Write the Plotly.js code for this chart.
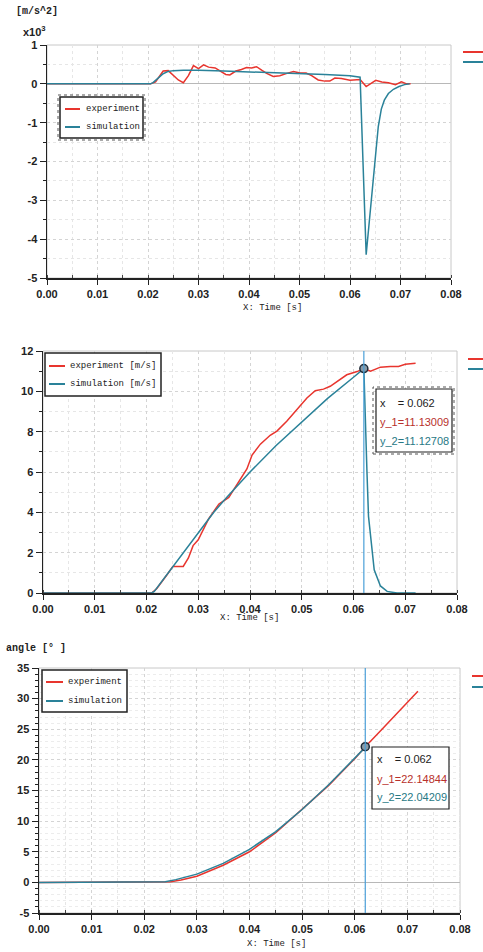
<!DOCTYPE html>
<html>
<head>
<meta charset="utf-8">
<script src="https://cdn.plot.ly/plotly-3.0.1.min.js"></script>
<style>
html,body{margin:0;padding:0;background:#fff;}
#chart{width:483px;height:952px;}
</style>
</head>
<body>
<div id="chart"></div>
<script>
// ---------- DATA ----------
// Chart 1: acceleration [x10^3 m/s^2]
const accTimeExp = [0, 0.0205, 0.0215, 0.023, 0.024, 0.025, 0.026, 0.027, 0.028, 0.029, 0.030, 0.031, 0.032, 0.0333, 0.0343, 0.0354, 0.0362, 0.0374, 0.0385, 0.0395, 0.0405, 0.0415, 0.0425, 0.0435, 0.0448, 0.0461, 0.0475, 0.0488, 0.0501, 0.0513, 0.0524, 0.0537, 0.055, 0.056, 0.057, 0.0583, 0.060, 0.061, 0.062, 0.0632, 0.064, 0.0651, 0.0663, 0.0676, 0.069, 0.0702, 0.0712, 0.072];
const accExp = [0, 0, 0.05, 0.33, 0.34, 0.21, 0.10, 0.03, 0.21, 0.47, 0.39, 0.49, 0.43, 0.41, 0.33, 0.24, 0.23, 0.33, 0.37, 0.42, 0.41, 0.44, 0.35, 0.27, 0.19, 0.21, 0.27, 0.32, 0.28, 0.28, 0.21, 0.10, 0.07, 0.07, 0.15, 0.14, 0.09, 0.10, 0.11, -0.07, 0.00, 0.09, 0.05, 0.03, -0.02, 0.05, 0.00, 0.00];
const accTimeSim = [0, 0.0205, 0.021, 0.022, 0.023, 0.024, 0.025, 0.027, 0.030, 0.035, 0.040, 0.045, 0.050, 0.055, 0.060, 0.0612, 0.0620, 0.0632, 0.0645, 0.0651, 0.0656, 0.0662, 0.0668, 0.0676, 0.0686, 0.0697, 0.0708, 0.0718];
const accSim = [0, 0, 0.03, 0.15, 0.26, 0.32, 0.34, 0.35, 0.35, 0.33, 0.31, 0.28, 0.26, 0.24, 0.21, 0.19, 0.17, -4.40, -2.60, -1.90, -1.10, -0.65, -0.42, -0.25, -0.14, -0.07, -0.02, 0];
const accTickVals = [1, 0, -1, -2, -3, -4, -5];
const accTickText = ["1", "0", "-1", "-2", "-3", "-4", "-5"];

// Chart 2: velocity [m/s]
const velTimeExp = [0, 0.021, 0.022, 0.023, 0.024, 0.0251, 0.0271, 0.0281, 0.029, 0.030, 0.031, 0.032, 0.033, 0.034, 0.0359, 0.0368, 0.0381, 0.0394, 0.0404, 0.042, 0.0439, 0.0452, 0.0471, 0.0491, 0.051, 0.0526, 0.0542, 0.0555, 0.0568, 0.0587, 0.0607, 0.062, 0.0633, 0.0652, 0.0671, 0.0687, 0.070, 0.072];
const velExp = [0, 0, 0.22, 0.55, 0.92, 1.32, 1.32, 1.74, 2.35, 2.64, 3.2, 3.67, 4.05, 4.41, 4.74, 5.12, 5.62, 6.15, 6.84, 7.38, 7.82, 8.03, 8.52, 9.1, 9.67, 10.03, 10.11, 10.25, 10.5, 10.82, 10.98, 11.13009, 11.0, 11.2, 11.23, 11.23, 11.34, 11.39];
const velTimeSim = [0, 0.021, 0.0215, 0.022, 0.023, 0.025, 0.030, 0.033, 0.035, 0.040, 0.045, 0.050, 0.055, 0.060, 0.062, 0.0626, 0.0629, 0.0640, 0.0652, 0.0665, 0.0684, 0.072];
const velSim = [0, 0, 0.08, 0.25, 0.6, 1.3, 3.0, 4.0, 4.6, 6.0, 7.3, 8.5, 9.65, 10.7, 11.12708, 6.0, 3.8, 1.15, 0.35, 0.08, 0, 0];
const velTickVals = [0, 2, 4, 6, 8, 10, 12];

// Chart 3: angle [deg]
const angTimeExp = [0, 0.023, 0.025, 0.027, 0.030, 0.035, 0.040, 0.045, 0.050, 0.055, 0.060, 0.062, 0.065, 0.068, 0.072];
const angExp = [0, 0, 0.1, 0.4, 1.0, 2.8, 5.0, 8.1, 11.9, 15.8, 20.2, 22.14844, 24.85, 27.6, 31.2];
const angTimeSim = [0, 0.022, 0.024, 0.026, 0.028, 0.030, 0.035, 0.040, 0.045, 0.050, 0.055, 0.060, 0.062];
const angSim = [0, 0, 0.1, 0.45, 0.85, 1.35, 3.1, 5.4, 8.3, 11.9, 15.9, 20.2, 22.04209];
const angTickVals = [35, 30, 25, 20, 15, 10, 5, 0, -5];
const angTickText = ["35", "30", "25", "20", "15", "10", "5", "0", "-5"];

// Legend labels
const legendNames1 = ["experiment", "simulation"];
const legendNames2 = ["experiment [m/s]", "simulation [m/s]"];
const legendNames3 = ["experiment", "simulation"];

// Cursor readouts
const cursorX = 0.062;
const velCursor = [11.13009, 11.12708];
const angCursor = [22.14844, 22.04209];

// ---------- STYLE ----------
const RED = '#e8352e';
const TEAL = '#2a8299';
const CURSOR = '#4a9fd8';
const W = 483, H = 952;
const px = v => v / W;
const py = v => 1 - v / H;

const tickFont = {family: 'Liberation Sans, Arial, sans-serif', size: 11, color: '#222', weight: 'bold'};
const monoFont = {family: 'Liberation Mono, DejaVu Sans Mono, monospace', size: 9, color: '#222'};

function xAxis(domain, anchor) {
  return {
    domain: domain, anchor: anchor, range: [0, 0.08], tick0: 0, dtick: 0.01, tickformat: '.2f',
    showline: true, linecolor: '#222', linewidth: 1.5, ticks: 'outside', ticklen: 5, tickcolor: '#222',
    tickfont: tickFont, showgrid: true, gridcolor: '#d4d4d4', griddash: 'dot', gridwidth: 1,
    zeroline: false, fixedrange: true,
    minor: {dtick: 0.005, ticks: 'inside', ticklen: 3, tickcolor: '#444', showgrid: true, gridcolor: '#e6e6e6', griddash: 'dot'}
  };
}
function yAxis(domain, anchor, range, extra) {
  return Object.assign({
    domain: domain, anchor: anchor, range: range,
    showline: true, linecolor: '#222', linewidth: 1.5, ticks: 'outside', ticklen: 6, tickcolor: '#222',
    tickfont: tickFont, showgrid: true, gridcolor: '#d4d4d4', griddash: 'dot', gridwidth: 1,
    zeroline: true, zerolinecolor: '#b8b8b8', zerolinewidth: 1, fixedrange: true
  }, extra);
}

const traces = [
  {x: accTimeExp, y: accExp, xaxis: 'x', yaxis: 'y', type: 'scatter', mode: 'lines', name: legendNames1[0], line: {color: RED, width: 1.5}},
  {x: accTimeSim, y: accSim, xaxis: 'x', yaxis: 'y', type: 'scatter', mode: 'lines', name: legendNames1[1], line: {color: TEAL, width: 1.5}},
  {x: velTimeExp, y: velExp, xaxis: 'x2', yaxis: 'y2', type: 'scatter', mode: 'lines', name: legendNames2[0], line: {color: RED, width: 1.5}},
  {x: velTimeSim, y: velSim, xaxis: 'x2', yaxis: 'y2', type: 'scatter', mode: 'lines', name: legendNames2[1], line: {color: TEAL, width: 1.5}},
  {x: [cursorX], y: [velCursor[0]], xaxis: 'x2', yaxis: 'y2', type: 'scatter', mode: 'markers', name: 'cursor', marker: {size: 8, color: '#8899a6', line: {color: '#1d2b38', width: 1.5}}},
  {x: angTimeExp, y: angExp, xaxis: 'x3', yaxis: 'y3', type: 'scatter', mode: 'lines', name: legendNames3[0], line: {color: RED, width: 1.5}},
  {x: angTimeSim, y: angSim, xaxis: 'x3', yaxis: 'y3', type: 'scatter', mode: 'lines', name: legendNames3[1], line: {color: TEAL, width: 1.5}},
  {x: [cursorX], y: [angCursor[0]], xaxis: 'x3', yaxis: 'y3', type: 'scatter', mode: 'markers', name: 'cursor', marker: {size: 8, color: '#8899a6', line: {color: '#1d2b38', width: 1.5}}}
];

const fmt = v => v.toFixed(5);
const tipFont = {family: 'Liberation Sans, Arial, sans-serif', size: 11};

function txt(text, x, y, font, anchor) {
  return {text: text, x: px(x), y: py(y), xref: 'paper', yref: 'paper', xanchor: anchor || 'left', yanchor: 'middle', showarrow: false, font: font};
}

const annotations = [
  txt('<b>[m/s^2]</b>', 14, 12, {family: monoFont.family, size: 10, color: '#222'}),
  txt('<b>x10<sup>3</sup></b>', 21, 31, {family: 'Liberation Sans, Arial, sans-serif', size: 11, color: '#222'}),
  txt('<b>angle [° ]</b>', 4, 648, {family: monoFont.family, size: 10, color: '#222'}),
  txt('X: Time [s]', 272, 308, monoFont, 'center'),
  txt('X: Time [s]', 249, 618, monoFont, 'center'),
  txt('X: Time [s]', 276, 944, monoFont, 'center'),
  // legends
  txt(legendNames1[0], 84, 109, monoFont), txt(legendNames1[1], 84, 127, monoFont),
  txt(legendNames2[0], 68, 366, monoFont), txt(legendNames2[1], 68, 384, monoFont),
  txt(legendNames3[0], 66, 682, monoFont), txt(legendNames3[1], 66, 701, monoFont),
  // tooltip chart 2
  txt('x    = ' + cursorX.toFixed(3), 378, 403, Object.assign({color: '#222'}, tipFont)),
  txt('y_1=' + fmt(velCursor[0]), 378, 422, Object.assign({color: '#b8312c'}, tipFont)),
  txt('y_2=' + fmt(velCursor[1]), 378, 441, Object.assign({color: '#287985'}, tipFont)),
  // tooltip chart 3
  txt('x    = ' + cursorX.toFixed(3), 375, 759, Object.assign({color: '#222'}, tipFont)),
  txt('y_1=' + fmt(angCursor[0]), 375, 779, Object.assign({color: '#b8312c'}, tipFont)),
  txt('y_2=' + fmt(angCursor[1]), 375, 797, Object.assign({color: '#287985'}, tipFont))
];

function paperRect(x0, y0, x1, y1, color, width, dash, fill) {
  return {type: 'rect', xref: 'paper', yref: 'paper', x0: px(x0), x1: px(x1), y0: py(y1), y1: py(y0), line: {color: color, width: width, dash: dash || 'solid'}, fillcolor: fill || 'rgba(0,0,0,0)'};
}
function paperLine(x0, y, x1, color, w) {
  return {type: 'line', xref: 'paper', yref: 'paper', x0: px(x0), x1: px(x1), y0: py(y), y1: py(y), line: {color: color, width: w || 2}};
}
function frame(xr, yr) {
  return {type: 'rect', xref: xr + ' domain', yref: yr + ' domain', x0: 0, x1: 1, y0: 0, y1: 1, line: {color: '#c8c8c8', width: 1}, layer: 'below'};
}

const shapes = [
  frame('x', 'y'), frame('x2', 'y2'), frame('x3', 'y3'),
  // cursor lines
  {type: 'line', xref: 'x2', yref: 'y2 domain', x0: cursorX, x1: cursorX, y0: 0, y1: 1, line: {color: CURSOR, width: 1.2}},
  {type: 'line', xref: 'x3', yref: 'y3 domain', x0: cursorX, x1: cursorX, y0: 0, y1: 1, line: {color: CURSOR, width: 1.2}},
  // tooltip boxes
  paperRect(373, 387, 454, 454, '#555', 1, 'dot'),
  paperRect(376, 389, 452, 452, '#222', 1.2, 'solid', '#fff'),
  paperRect(372, 747, 449, 809, '#222', 1.2, 'solid', '#fff'),
  // legend 1
  paperRect(58, 95, 145, 140, '#555', 1, 'dot'),
  paperRect(60, 97, 143, 138, '#222', 1.5, 'solid', '#fff'),
  paperLine(65, 109, 80, RED), paperLine(65, 127, 80, TEAL),
  // legend 2
  paperRect(45, 353, 161, 396, '#222', 1.5, 'solid', '#fff'),
  paperLine(49, 366, 65, RED), paperLine(49, 384, 65, TEAL),
  // legend 3
  paperRect(42, 670, 127, 712, '#222', 1.5, 'solid', '#fff'),
  paperLine(46, 682, 63, RED), paperLine(46, 701, 63, TEAL),
  // clipped side legend marks
  paperLine(463, 52, 483, RED), paperLine(463, 62, 483, TEAL),
  paperLine(468, 359, 483, RED), paperLine(468, 369, 483, TEAL),
  paperLine(472, 676, 483, RED), paperLine(472, 687, 483, TEAL)
];

const layout = {
  width: W, height: H, margin: {l: 0, r: 0, t: 0, b: 0},
  paper_bgcolor: '#fff', plot_bgcolor: '#fff', showlegend: false,
  xaxis: xAxis([px(47), px(451)], 'y'),
  yaxis: yAxis([py(278), py(45)], 'x', [-5, 1], {tickvals: accTickVals, ticktext: accTickText, minor: {dtick: 0.5, ticks: 'outside', ticklen: 3, tickcolor: '#222', showgrid: true, gridcolor: '#e6e6e6', griddash: 'dot'}}),
  xaxis2: xAxis([px(43), px(457)], 'y2'),
  yaxis2: yAxis([py(593), py(351)], 'x2', [0, 12], {tickvals: velTickVals, zeroline: false, minor: {dtick: 1, ticks: 'outside', ticklen: 3, tickcolor: '#222', showgrid: true, gridcolor: '#e6e6e6', griddash: 'dot'}}),
  xaxis3: xAxis([px(39), px(460)], 'y3'),
  yaxis3: yAxis([py(913), py(668)], 'x3', [-5, 35], {tickvals: angTickVals, ticktext: angTickText, minor: {dtick: 1, ticks: 'outside', ticklen: 3, tickcolor: '#222', showgrid: true, gridcolor: '#ececec', griddash: 'dot'}}),
  annotations: annotations,
  shapes: shapes
};

Plotly.newPlot('chart', traces, layout, {staticPlot: true, displayModeBar: false});
</script>
</body>
</html>
